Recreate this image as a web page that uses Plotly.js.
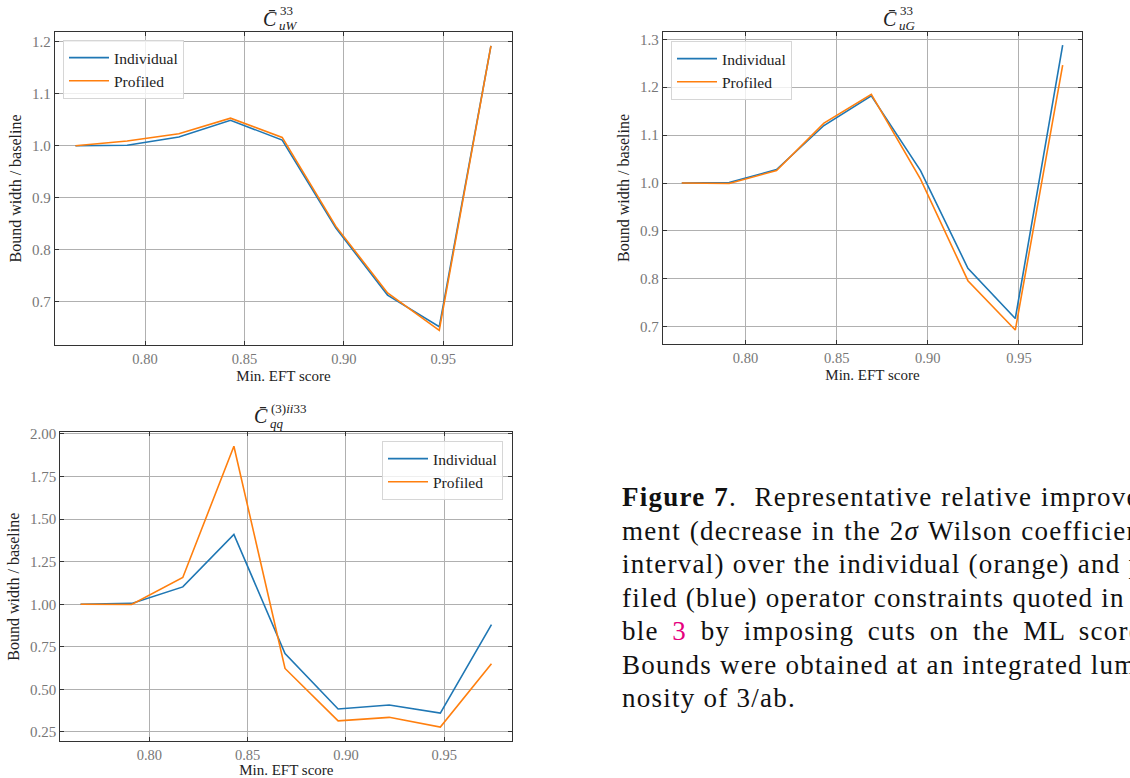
<!DOCTYPE html>
<html>
<head>
<meta charset="utf-8">
<script src="https://cdn.plot.ly/plotly-3.0.1.min.js"></script>
<style>
  html, body { margin: 0; padding: 0; width: 1130px; height: 778px; overflow: hidden; background: #fff; }
  #plot { position: absolute; left: 0; top: 0; width: 1130px; height: 778px; }
  #caption { position: absolute; left: 622px; top: 481px; width: 528px; font-family: "Liberation Serif", serif; font-size: 27px; line-height: 33.5px; color: #111; letter-spacing: 1.25px; }
  #caption div { white-space: nowrap; text-align: justify; text-align-last: justify; }
  .ref { color: #e6007e; }
</style>
</head>
<body>
<div id="plot"></div>
<div id="caption">
  <div><b>Figure 7</b>.&nbsp; Representative relative improve-</div>
  <div>ment (decrease in the 2<i>σ</i> Wilson coefficient</div>
  <div>interval) over the individual (orange) and pro-</div>
  <div>filed (blue) operator constraints quoted in ta-</div>
  <div>ble <span class="ref">3</span> by imposing cuts on the ML score.</div>
  <div>Bounds were obtained at an integrated lumi-</div>
  <div style="text-align-last:left">nosity of 3/ab.</div>
</div>
<script>
// ---- data ----
const eftScore = [0.765, 0.791, 0.817, 0.843, 0.869, 0.896, 0.922, 0.948, 0.974];

const uW_individual = [1.000, 1.001, 1.017, 1.049, 1.011, 0.842, 0.713, 0.652, 1.192];
const uW_profiled   = [1.000, 1.009, 1.023, 1.053, 1.016, 0.845, 0.717, 0.645, 1.192];

const uG_individual = [1.000, 1.001, 1.028, 1.120, 1.182, 1.026, 0.822, 0.717, 1.288];
const uG_profiled   = [1.000, 0.999, 1.026, 1.125, 1.185, 1.008, 0.796, 0.693, 1.246];

const qq_individual = [1.000, 1.005, 1.102, 1.410, 0.711, 0.385, 0.408, 0.361, 0.880];
const qq_profiled   = [1.000, 0.999, 1.157, 1.928, 0.623, 0.315, 0.336, 0.279, 0.650];

const seriesNames = ["Individual", "Profiled"];
const xTickVals = [0.80, 0.85, 0.90, 0.95];

// ---- layout helpers ----
const W = 1130, H = 778;
const px = x => x / W;
const py = y => 1 - y / H;
const FONT = "Liberation Serif";
const BLUE = "#1f77b4", ORANGE = "#ff7f0e";

function line(x, y, name, color, xa, ya, leg) {
  return { x: x, y: y, name: name, type: "scatter", mode: "lines",
           line: { color: color, width: 1.6 }, xaxis: xa, yaxis: ya,
           legend: leg, showlegend: true, hoverinfo: "skip" };
}

const data = [
  line(eftScore, uW_individual, seriesNames[0], BLUE, "x", "y", "legend"),
  line(eftScore, uW_profiled, seriesNames[1], ORANGE, "x", "y", "legend"),
  line(eftScore, uG_individual, seriesNames[0], BLUE, "x2", "y2", "legend2"),
  line(eftScore, uG_profiled, seriesNames[1], ORANGE, "x2", "y2", "legend2"),
  line(eftScore, qq_individual, seriesNames[0], BLUE, "x3", "y3", "legend3"),
  line(eftScore, qq_profiled, seriesNames[1], ORANGE, "x3", "y3", "legend3")
];

function xax(domain, anchor) {
  return { domain: domain, anchor: anchor, range: [0.7547, 0.9846],
           tickvals: xTickVals, tickformat: ".2f",
           ticks: "inside", ticklen: 4, tickcolor: "#333", mirror: "allticks",
           showline: true, linecolor: "#333", linewidth: 1.3,
           showgrid: true, gridcolor: "#b0b0b0", gridwidth: 1, zeroline: false,
           tickfont: { family: FONT, size: 14.5, color: "#777" },
           title: { text: "Min. EFT score", font: { family: FONT, size: 15, color: "#222" }, standoff: 4 } };
}
function yax(domain, anchor, range, dtick, fmt) {
  return { domain: domain, anchor: anchor, range: range, dtick: dtick, tick0: 0, tickformat: fmt,
           ticks: "inside", ticklen: 4, tickcolor: "#333", mirror: "allticks",
           showline: true, linecolor: "#333", linewidth: 1.3,
           showgrid: true, gridcolor: "#b0b0b0", gridwidth: 1, zeroline: false,
           tickfont: { family: FONT, size: 15, color: "#777" },
           title: { text: "Bound width / baseline", font: { family: FONT, size: 16, color: "#222" }, standoff: 6 } };
}
function legend(x, y, xanchor) {
  return { x: px(x), y: py(y), xanchor: xanchor, yanchor: "top", xref: "paper", yref: "paper",
           bgcolor: "rgba(255,255,255,0.8)", bordercolor: "#d6d6d6", borderwidth: 1,
           font: { family: FONT, size: 15.5, color: "#222" }, itemwidth: 40, tracegroupgap: 0 };
}
function ann(text, x, y, xanchor, size) {
  return { text: text, x: px(x), y: py(y), xref: "paper", yref: "paper", xanchor: xanchor, yanchor: "middle",
           showarrow: false, font: { family: FONT, size: size, color: "#222" } };
}

const annotations = [
  // panel 1 title
  ann("<i>C\u0304</i>", 279, 19, "right", 20),
  ann("33", 278, 11, "left", 13),
  ann("<i>uW</i>", 277, 26, "left", 13),
  // panel 2 title
  ann("<i>C\u0304</i>", 899, 19, "right", 20),
  ann("33", 898, 11, "left", 13),
  ann("<i>uG</i>", 897, 26, "left", 13),
  // panel 3 title
  ann("<i>C\u0304</i>", 270, 416, "right", 20),
  ann("(3)<i>ii</i>33", 269, 408, "left", 13),
  ann("<i>qq</i>", 268, 424, "left", 13)
];

const layout = {
  width: W, height: H,
  font: { family: FONT, size: 15, color: "#222" },
  margin: { l: 0, r: 0, t: 0, b: 0 },
  paper_bgcolor: "#fff", plot_bgcolor: "#fff",
  xaxis: xax([px(55), px(512)], "y"),
  yaxis: yax([py(345), py(32)], "x", [0.617, 1.2187], 0.1, ".1f"),
  xaxis2: xax([px(663), px(1082)], "y2"),
  yaxis2: yax([py(344), py(32)], "x2", [0.6638, 1.3153], 0.1, ".1f"),
  xaxis3: xax([px(60.3), px(512.3)], "y3"),
  yaxis3: yax([py(741), py(432.3)], "x3", [0.197, 2.0098], 0.25, ".2f"),
  legend: legend(63, 40, "left"),
  legend2: legend(671, 41, "left"),
  legend3: legend(503, 441, "right"),
  annotations: annotations,
  showlegend: true
};

Plotly.newPlot("plot", data, layout, { displayModeBar: false });
</script>
</body>
</html>
